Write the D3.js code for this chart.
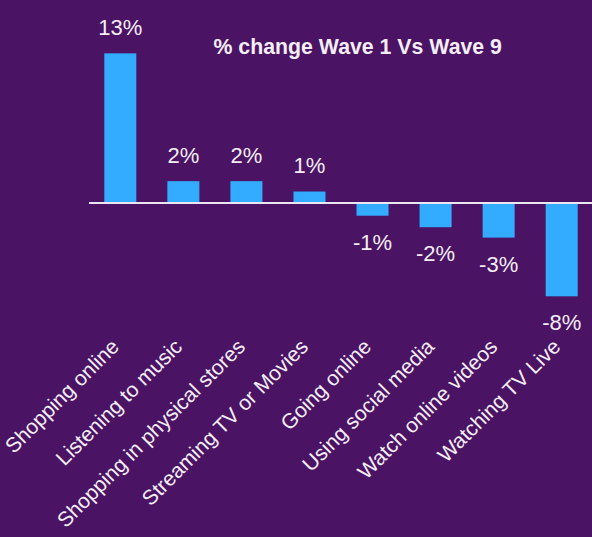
<!DOCTYPE html>
<html><head><meta charset="utf-8">
<script src="https://cdn.jsdelivr.net/npm/d3@7"></script>
<style>html,body{margin:0;padding:0;background:#4b1363;}svg{display:block;}</style>
</head><body>
<svg id="chart" width="592" height="537"></svg>
<script>
const categories = ["Shopping online","Listening to music","Shopping in physical stores","Streaming TV or Movies","Going online","Using social media","Watch online videos","Watching TV Live"];
const values = [13.0, 1.9, 1.9, 1.0, -1.1, -2.1, -3.0, -8.1];
const title = "% change Wave 1 Vs Wave 9";

const W = 592, H = 537;
const svg = d3.select("#chart");
svg.append("rect").attr("width", W).attr("height", H).attr("fill", "#4b1363");

const x = d3.scalePoint().domain(categories).range([120.3, 561.7]);
const y = d3.scaleLinear().domain([-10, 15]).range([318.2, 30.3]);
const barW = 32;
const txt = "#f4eef6";
const font = "Liberation Sans, Arial, sans-serif";

svg.append("text").attr("x", 213.5).attr("y", 53.5)
  .attr("font-family", font).attr("font-size", 21.3).attr("font-weight", "bold")
  .attr("fill", txt).text(title);

const data = categories.map((c, i) => ({c, v: values[i]}));

svg.selectAll("rect.bar").data(data).join("rect").attr("class", "bar")
  .attr("x", d => x(d.c) - barW / 2)
  .attr("width", barW)
  .attr("y", d => Math.min(y(d.v), y(0)))
  .attr("height", d => Math.abs(y(d.v) - y(0)))
  .attr("fill", "#33abff");

svg.append("line").attr("x1", 89).attr("x2", W).attr("y1", y(0)).attr("y2", y(0))
  .attr("stroke", "#ece6f2").attr("stroke-width", 2);

svg.selectAll("text.val").data(data).join("text").attr("class", "val")
  .attr("x", d => x(d.c))
  .attr("y", d => d.v >= 0 ? y(d.v) - 18.5 : y(d.v) + 34)
  .attr("text-anchor", "middle")
  .attr("font-family", font).attr("font-size", 22)
  .attr("fill", txt)
  .text(d => (d.v < 0 ? "-" : "") + Math.round(Math.abs(d.v)) + "%");

svg.selectAll("text.cat").data(data).join("text").attr("class", "cat")
  .attr("transform", d => `translate(${x(d.c)},348) rotate(-45)`)
  .attr("text-anchor", "end")
  .attr("font-family", font).attr("font-size", 21)
  .attr("fill", txt)
  .text(d => d.c);
</script>
</body></html>
